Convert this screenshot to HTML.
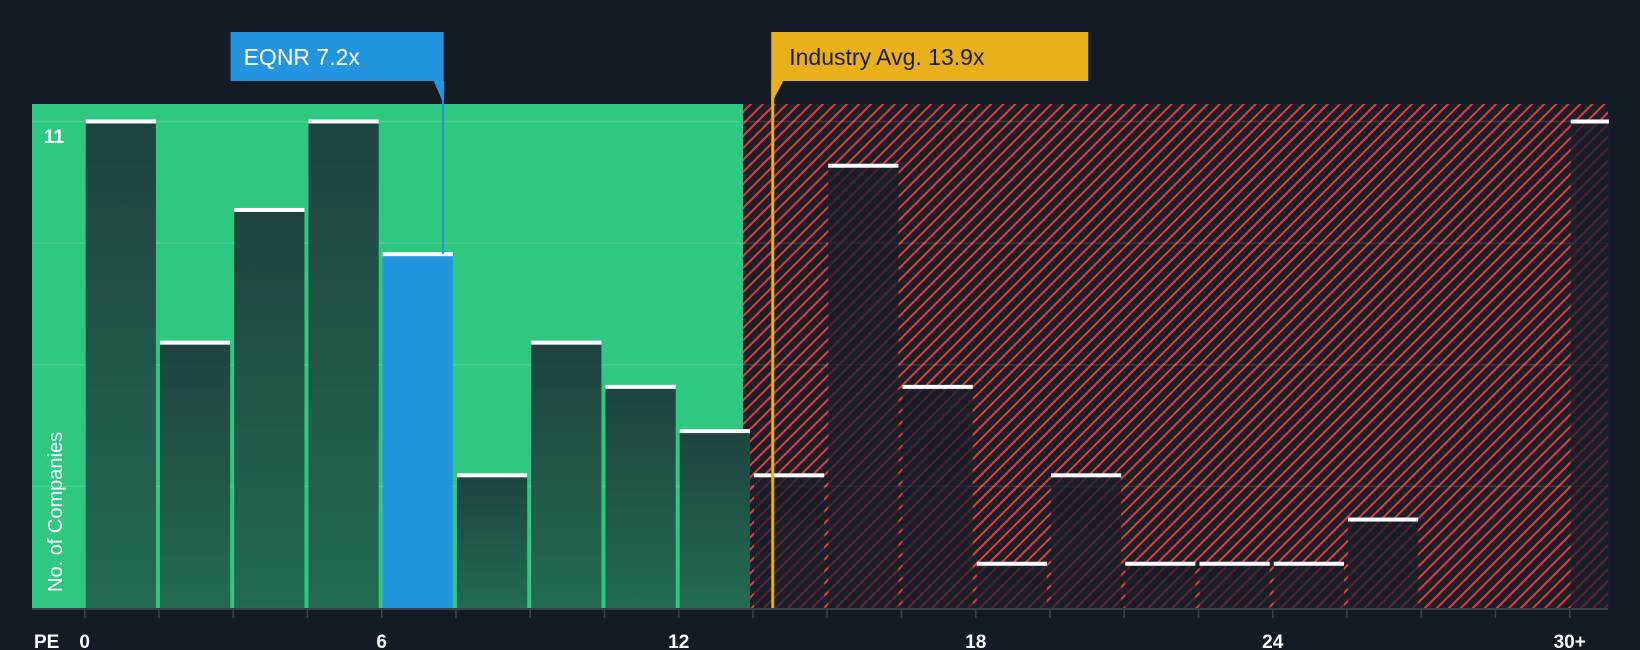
<!DOCTYPE html>
<html><head><meta charset="utf-8">
<style>
html,body{margin:0;padding:0;background:#151b24;}
svg{display:block;font-family:"Liberation Sans",sans-serif;}
</style></head>
<body>
<svg id="chart" width="1640" height="650" viewBox="0 0 1640 650">
<defs>
<pattern id="hatch" patternUnits="userSpaceOnUse" width="8.5" height="8.5" patternTransform="rotate(45)">
<rect width="8.5" height="8.5" fill="#1a1f29"/>
<rect x="0" y="0" width="2" height="8.5" fill="#e03b3e"/>
</pattern>
<linearGradient id="darkbar" x1="0" y1="0" x2="0" y2="1">
<stop offset="0" stop-color="#1e4440"/>
<stop offset="1" stop-color="#236b51"/>
</linearGradient>
<linearGradient id="redbar" x1="0" y1="0" x2="0" y2="1">
<stop offset="0" stop-color="#1b1e28" stop-opacity="0.8"/>
<stop offset="1" stop-color="#1b1e28" stop-opacity="0.7"/>
</linearGradient>
</defs>
<g id="root"></g>
</svg>
<script>
const binStarts = [0,1.5,3,4.5,6,7.5,9,10.5,12,13.5,15,16.5,18,19.5,21,22.5,24,25.5,27,28.5,30];
const counts    = [11,6,9,11,8,3,6,5,4,3,10,5,1,3,1,1,1,2,0,0,11];
const xTickLabels = ["0","6","12","18","24","30+"];
const xTickValues = [0,6,12,18,24,30];
const companyPE = 7.2;
const industryPE = 13.9;
const greenLimit = 13.3;
const yMax = 11;

const NS = "http://www.w3.org/2000/svg";
const root = document.getElementById('root');
const L = 32, R = 1608, T = 104, B = 608;
const X0 = 84.7, PX = 49.5;
const x = v => X0 + v*PX;
const y = v => B - v*(B-121.5)/yMax;
function mk(tag, attrs, parent){
  const e = document.createElementNS(NS, tag);
  for (const k in attrs) e.setAttribute(k, attrs[k]);
  (parent||root).appendChild(e);
  return e;
}
let g = mk('rect',{x:L,y:T,width:x(greenLimit)-L,height:B-T,fill:'#2ec880'});


let h = mk('rect',{x:x(greenLimit),y:T,width:R-x(greenLimit),height:B-T,fill:'url(#hatch)'});


for (let i=1;i<=4;i++){
  const gv = yMax*i/4;
  const gl = mk('line',{x1:L,x2:R,y1:y(gv),y2:y(gv),stroke:'rgba(255,255,255,0.12)','stroke-width':1.5});
  
  
}
binStarts.forEach((s,i)=>{
  const c = counts[i];
  if (!c) return;
  const w = (i===binStarts.length-1) ? (R - x(s)) : 1.5*PX - 4;
  const bx = x(s)+1;
  let fill;
  if (s <= companyPE && companyPE < s+1.5) fill = '#2394e0';
  else if (s < greenLimit) fill = 'url(#darkbar)';
  else fill = 'url(#redbar)';
  const b = mk('rect',{x:bx,y:y(c),width:w,height:B-y(c),fill:fill});
  
  
  const cap = mk('rect',{x:bx,y:y(c)-2,width:w,height:4,fill:'#ffffff'});
  
  
});
const ax = mk('line',{x1:L,x2:R,y1:B+1,y2:B+1,stroke:'#3a414c','stroke-width':2});


for (let v=0; v<=31.5; v+=1.5){
  const t = mk('line',{x1:x(v),x2:x(v),y1:B+2,y2:B+10,stroke:'#3a414c','stroke-width':1.5});
  
  
}
xTickLabels.forEach((lab,i)=>{
  const t = mk('text',{x:x(xTickValues[i]),y:648,fill:'#fff','font-size':19,'font-weight':'bold','text-anchor':'middle'});
  t.textContent = lab;
  
  
});
const pe = mk('text',{x:34,y:648,fill:'#fff','font-size':19,'font-weight':'bold'});
pe.textContent='PE';


const yl = mk('text',{x:44,y:143,fill:'#fff','font-size':19,'font-weight':'bold'});
yl.textContent='11';


const yt = mk('text',{x:0,y:0,fill:'#fff','font-size':20,transform:'translate(62,592) rotate(-90)'});
yt.textContent='No. of Companies';


const il = mk('line',{x1:x(industryPE),x2:x(industryPE),y1:81,y2:B,stroke:'#e9b01a','stroke-width':3});


const cl = mk('line',{x1:x(companyPE)+2,x2:x(companyPE)+2,y1:81,y2:y(counts[4]),stroke:'#2394e0','stroke-width':2});


const ex = x(companyPE)+2.5;
const eb = mk('path',{d:`M${ex-213} 32 H${ex} V104 L${ex-10} 81 H${ex-213} Z`,fill:'#2394e0'});


const et = mk('text',{x:ex-200,y:65,fill:'#fff','font-size':23});
et.textContent='EQNR 7.2x';


const ix = x(industryPE)-1.5;
const ib = mk('path',{d:`M${ix} 32 H${ix+317} V81 H${ix+12} L${ix} 104 Z`,fill:'#e9b01a'});


const it = mk('text',{x:ix+18,y:65,fill:'#1a1f29','font-size':23});
it.textContent='Industry Avg. 13.9x';


</script>
</body></html>
